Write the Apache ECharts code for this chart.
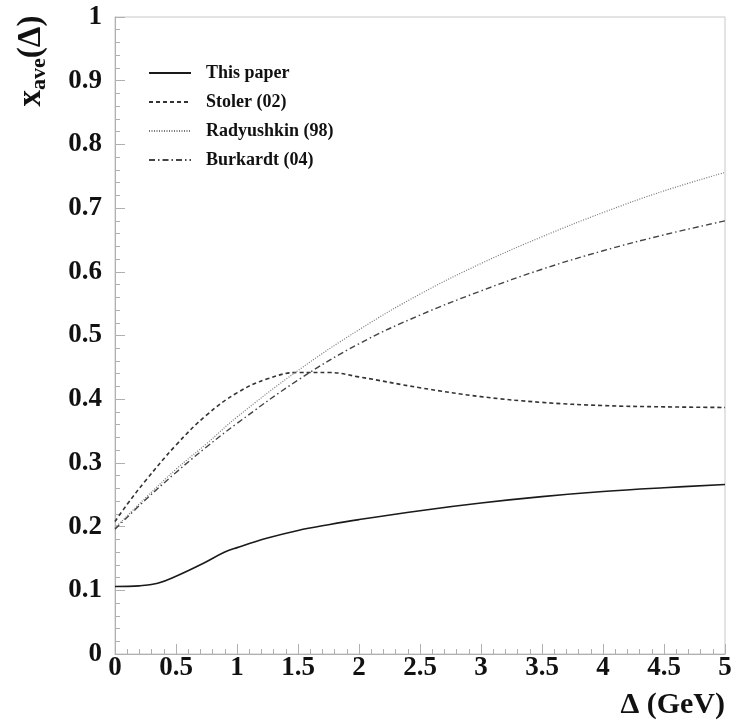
<!DOCTYPE html>
<html>
<head>
<meta charset="utf-8">
<script src="https://cdn.jsdelivr.net/npm/echarts@6/dist/echarts.min.js"></script>
<style>html,body{margin:0;padding:0;background:#fff}#c{width:738px;height:725px}</style>
</head>
<body>
<div id="c"></div>
<script>
const thisPaperX = [0, 0.2, 0.35, 0.5, 0.7, 0.9, 1.0, 1.25, 1.5, 1.75, 2.0, 2.5, 3.0, 3.5, 4.0, 4.5, 5.0];
const thisPaperY = [0.106, 0.107, 0.111, 0.122, 0.140, 0.160, 0.167, 0.182, 0.194, 0.203, 0.211, 0.225, 0.237, 0.247, 0.255, 0.261, 0.266];

const stolerX = [0, 0.1, 0.25, 0.5, 0.75, 1.0, 1.25, 1.5, 1.75, 2.0, 2.5, 3.0, 3.5, 4.0, 4.5, 5.0];
const stolerY = [0.208, 0.235, 0.272, 0.328, 0.375, 0.410, 0.432, 0.442, 0.442, 0.435, 0.418, 0.404, 0.395, 0.390, 0.388, 0.387];

const radyushkinX = [0, 0.25, 0.5, 0.75, 1.0, 1.5, 2.0, 2.5, 3.0, 3.5, 4.0, 4.5, 5.0];
const radyushkinY = [0.198, 0.245, 0.290, 0.330, 0.372, 0.445, 0.509, 0.565, 0.613, 0.655, 0.693, 0.727, 0.756];

const burkardtX = [0, 0.25, 0.5, 0.75, 1.0, 1.5, 2.0, 2.5, 3.0, 3.5, 4.0, 4.5, 5.0];
const burkardtY = [0.196, 0.242, 0.285, 0.325, 0.362, 0.430, 0.487, 0.532, 0.570, 0.604, 0.633, 0.658, 0.680];

const seriesNames = ['This paper', 'Stoler (02)', 'Radyushkin (98)', 'Burkardt (04)'];

function pairs(xs, ys) { return xs.map((x, i) => [x, ys[i]]); }

const FONT = '"Liberation Serif", "Times New Roman", serif';

const chart = echarts.init(document.getElementById('c'), null, {renderer: 'canvas'});
chart.setOption({
  animation: false,
  backgroundColor: '#fff',
  grid: {left: 115, right: 13, top: 17, bottom: 71, show: true, borderColor: '#c8c8c8', borderWidth: 1},
  legend: {
    orient: 'vertical', left: 143, top: 59, itemWidth: 42, itemHeight: 14, itemGap: 11,
    data: seriesNames,
    itemStyle: {opacity: 0},
    textStyle: {fontFamily: FONT, fontWeight: 'bold', fontSize: 18, color: '#111', padding: [0, 0, 0, 10]}
  },
  xAxis: {
    type: 'value', min: 0, max: 5, interval: 0.5,
    axisLine: {lineStyle: {color: '#b0b0b0', width: 1}},
    axisTick: {inside: true, length: 10, lineStyle: {color: '#b0b0b0'}},
    minorTick: {show: true, splitNumber: 5, length: 5, lineStyle: {color: '#b0b0b0'}},
    splitLine: {show: false},
    axisLabel: {margin: 1, fontFamily: FONT, fontWeight: 'bold', fontSize: 27, color: '#111',
      formatter: v => String(v)}
  },
  yAxis: {
    type: 'value', min: 0, max: 1, interval: 0.1,
    axisLine: {show: true, lineStyle: {color: '#b0b0b0', width: 1}},
    axisTick: {show: true, inside: true, length: 10, lineStyle: {color: '#b0b0b0'}},
    minorTick: {show: true, splitNumber: 5, length: 5, lineStyle: {color: '#b0b0b0'}},
    splitLine: {show: false},
    axisLabel: {margin: 13, fontFamily: FONT, fontWeight: 'bold', fontSize: 27, color: '#111',
      formatter: v => String(Math.round(v * 10) / 10)}
  },
  graphic: [
    {
      type: 'text', x: 31, y: 61, rotation: Math.PI / 2,
      style: {
        text: '{x|x}{sub|ave}{x|(Δ)}',
        align: 'center', verticalAlign: 'middle',
        rich: {
          x: {fontFamily: FONT, fontWeight: 'bold', fontSize: 33, fill: '#111', lineHeight: 38, verticalAlign: 'middle'},
          sub: {fontFamily: FONT, fontWeight: 'bold', fontSize: 22, fill: '#111', lineHeight: 38, verticalAlign: 'bottom', padding: [12, 0, 0, 0]}
        }
      }
    },
    {
      type: 'text', x: 725, y: 705,
      style: {text: 'Δ (GeV)', align: 'right', verticalAlign: 'middle',
        fontFamily: FONT, fontWeight: 'bold', fontSize: 30, fill: '#111'}
    }
  ],
  series: [
    {name: seriesNames[0], type: 'line', data: pairs(thisPaperX, thisPaperY), symbol: 'none', smooth: 0.4,
      lineStyle: {color: '#1a1a1a', width: 1.6, type: 'solid'}, itemStyle: {color: '#1a1a1a'}},
    {name: seriesNames[1], type: 'line', data: pairs(stolerX, stolerY), symbol: 'none', smooth: 0.4,
      lineStyle: {color: '#333', width: 1.6, type: [4, 3]}, itemStyle: {color: '#333'}},
    {name: seriesNames[2], type: 'line', data: pairs(radyushkinX, radyushkinY), symbol: 'none', smooth: 0.4,
      lineStyle: {color: '#777', width: 1.2, type: [1, 1.5]}, itemStyle: {color: '#777'}},
    {name: seriesNames[3], type: 'line', data: pairs(burkardtX, burkardtY), symbol: 'none', smooth: 0.4,
      lineStyle: {color: '#444', width: 1.4, type: [6, 3, 1.5, 3]}, itemStyle: {color: '#444'}}
  ]
});
</script>
</body>
</html>
